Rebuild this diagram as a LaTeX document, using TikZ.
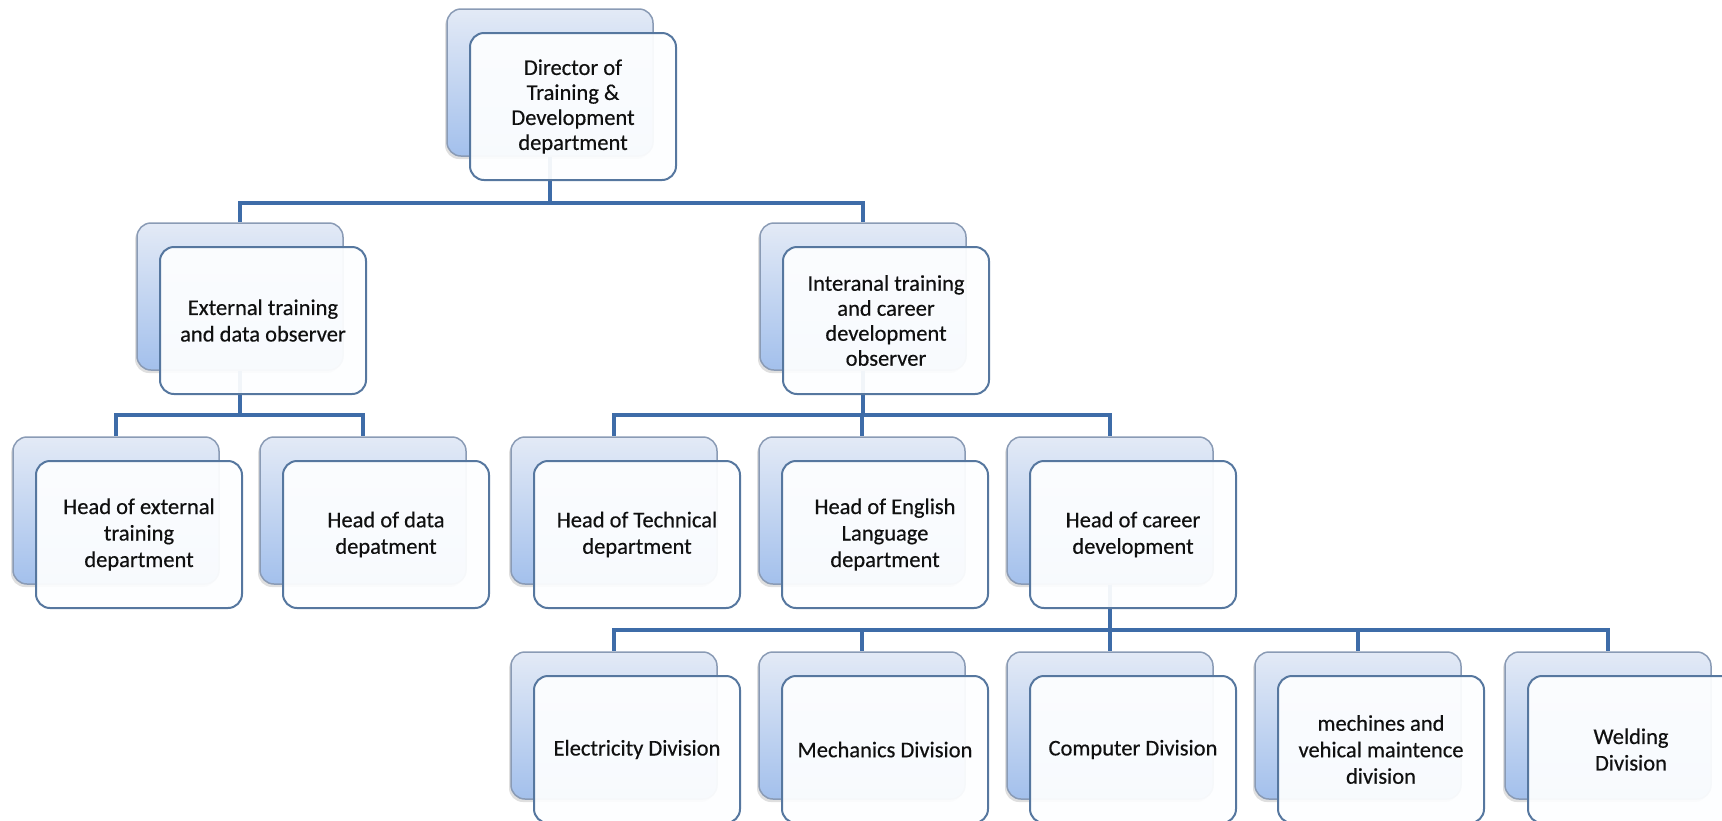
\documentclass[tikz,border=0pt]{standalone}
\usepackage{fontspec}
\setmainfont{Carlito}
\usetikzlibrary{shadows}

\definecolor{linkblue}{HTML}{3E6CA8}
\definecolor{backtop}{HTML}{E3EAF6}
\definecolor{backbottom}{HTML}{A3C0EC}
\definecolor{backedge}{HTML}{8A9BB5}
\definecolor{frontedge}{HTML}{56779F}
\definecolor{frontfill}{HTML}{FDFEFF}
\definecolor{inktext}{HTML}{101010}

\newfontfamily\cardface{Carlito}[FakeBold=0.4]
\newcommand{\cardfont}{\cardface\fontsize{22.5}{26.5}\selectfont}
\newcommand{\tightcardfont}{\cardface\fontsize{22.5}{25}\selectfont}

\tikzset{
  backbox/.style={rounded corners=14pt, draw=backedge, line width=1.5pt,
    top color=backtop, bottom color=backbottom,
    minimum width=206pt, minimum height=147pt, inner sep=0pt,
    drop shadow={shadow xshift=-2pt, shadow yshift=-3pt, opacity=0.25}},
  frontbox/.style={rounded corners=14pt, draw=frontedge, line width=2pt,
    fill=frontfill, fill opacity=0.94, text opacity=1,
    minimum width=206pt, minimum height=147pt, inner sep=0pt,
    text width=196pt, align=flush center, text=inktext,
    font=\cardfont},
  tight/.style={font=\tightcardfont},
  conn/.style={draw=linkblue, line width=4.5pt}
}

% back card: name, left, top
\newcommand{\backcard}[3]{\node[backbox] (#1B) at (#2+103,#3+73.5) {};}
% front card: [extra style], name, left, top (of the back card), text
\newcommand{\frontcard}[5][]{\node[frontbox,#1] (#2) at (#3+126,#4+97.5) {#5};}

\begin{document}
\begin{tikzpicture}[x=1pt,y=-1pt]
\useasboundingbox (0,0) rectangle (1722,820);
\clip (0,0) rectangle (1722,820);

% bus levels
\coordinate (busA) at (0,203);
\coordinate (busB) at (0,415);
\coordinate (busC) at (0,630);

% back cards
\backcard{dir}{447}{9}
\backcard{ext}{137}{223}
\backcard{int}{760}{223}
\backcard{hext}{13}{437}
\backcard{hdat}{260}{437}
\backcard{htec}{511}{437}
\backcard{heng}{759}{437}
\backcard{hcar}{1007}{437}
\backcard{ele}{511}{652}
\backcard{mec}{759}{652}
\backcard{com}{1007}{652}
\backcard{mac}{1255}{652}
\backcard{wel}{1505}{652}

% connectors
\foreach \kid in {ext,int}
  \draw[conn] (dirB.south) -- (dirB.south |- busA) -| (\kid B.north);
\foreach \kid in {hext,hdat}
  \draw[conn] (extB.south) -- (extB.south |- busB) -| (\kid B.north);
\foreach \kid in {htec,heng,hcar}
  \draw[conn] (intB.south) -- (intB.south |- busB) -| (\kid B.north);
\foreach \kid in {ele,mec,com,mac,wel}
  \draw[conn] (hcarB.south) -- (hcarB.south |- busC) -| (\kid B.north);

% front cards
\frontcard[tight]{dir}{447}{9}{Director of\\Training \&\\Development\\department}
\frontcard{ext}{137}{223}{External training\\and data observer}
\frontcard[tight]{int}{760}{223}{Interanal training\\and career\\development\\observer}
\frontcard{hext}{13}{437}{Head of external\\training\\department}
\frontcard{hdat}{260}{437}{Head of data\\depatment}
\frontcard{htec}{511}{437}{Head of Technical\\department}
\frontcard{heng}{759}{437}{Head of English\\Language\\department}
\frontcard{hcar}{1007}{437}{Head of career\\development}
\frontcard{ele}{511}{652}{Electricity Division}
\frontcard{mec}{759}{652}{Mechanics Division}
\frontcard{com}{1007}{652}{Computer Division}
\frontcard{mac}{1255}{652}{mechines and\\vehical maintence\\division}
\frontcard{wel}{1505}{652}{Welding\\Division}
\end{tikzpicture}
\end{document}
